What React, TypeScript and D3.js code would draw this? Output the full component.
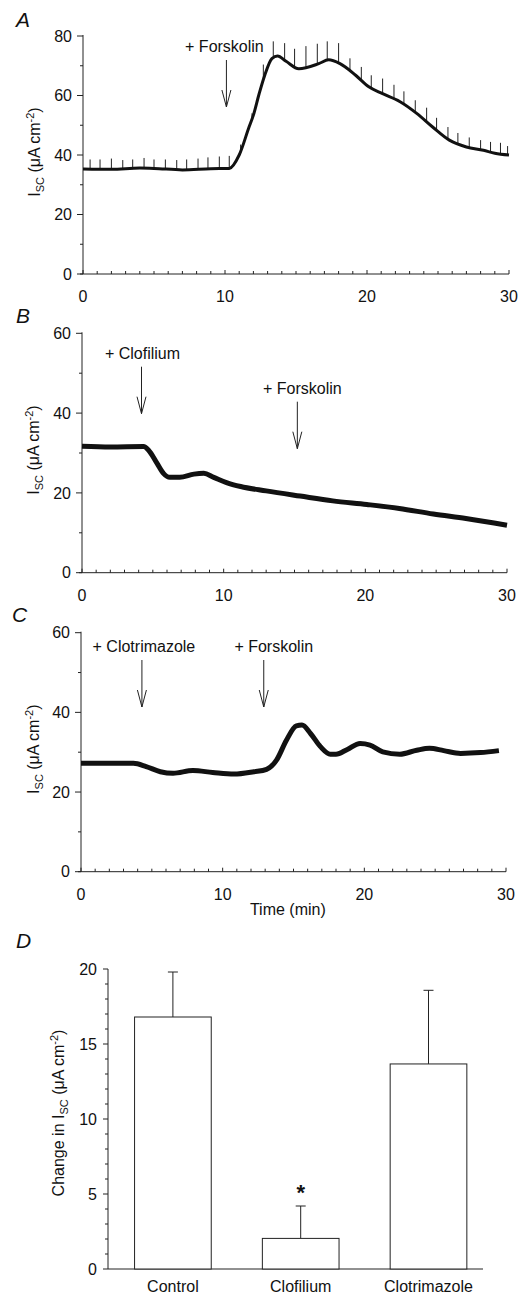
import React from "react";
import * as d3 from "d3";

// ---------- DATA ----------
// Panel A: mean trace (control)
const timeA = [0, 2, 4, 5, 7, 9, 10.3, 11, 11.7, 12.0, 12.4, 12.8, 13.3, 13.7, 14.3, 15.2, 16.6, 17.3, 18.1, 19.2, 20.1, 21.1, 22.3, 23.5, 24.6, 25.8, 27, 28.2, 29, 30];
const iscA = [35.3, 35.2, 35.6, 35.5, 35.0, 35.4, 35.5, 40, 49.5, 53.4, 60.5, 66.8, 72.4, 73.3, 71.5, 69, 70.7, 72, 70.7, 66.8, 63, 60.6, 58, 54, 49.5, 45, 42.7, 41.6, 40.6, 40];
// Panel A: SEM bar times and upper ends
const errTimeA = [0.5, 1.2, 2.0, 2.8, 3.5, 4.3, 5.0, 5.8, 6.6, 7.3, 8.1, 8.8, 9.6, 10.3, 11.1, 11.9, 12.7, 13.4, 14.2, 14.9, 15.7, 16.5, 17.2, 18.0, 18.8, 19.6, 20.3, 21.1, 21.9, 22.6, 23.4, 24.2, 24.9, 25.7, 26.4, 27.2, 28.0, 28.7, 29.4, 29.9];
const errTopA = [38.5, 38.5, 38.8, 38.3, 38.5, 39.0, 38.5, 38.5, 38.3, 38.5, 38.8, 39.2, 39.5, 39.7, 43.5, 54, 70.4, 78.2, 77.6, 75.7, 76.6, 77.4, 78.2, 77.6, 72.5, 69.6, 66.8, 65.7, 63.6, 61.4, 58.4, 55.9, 52.5, 49.4, 47.4, 45.9, 45.0, 44.4, 44.1, 43.0];

// Panel B: clofilium then forskolin
const timeB = [0, 2, 4.35, 4.7, 5.3, 5.75, 6.2, 6.9, 7.9, 8.6, 9.3, 10.2, 11.2, 13, 15.4, 17.7, 20.1, 22.4, 24.8, 27.1, 30];
const iscB = [31.7, 31.5, 31.6, 30.7, 27.4, 24.9, 23.9, 23.9, 24.7, 24.9, 23.9, 22.6, 21.6, 20.5, 19.2, 18, 17.1, 16.1, 14.7, 13.6, 11.9];

// Panel C: clotrimazole then forskolin
const timeC = [0, 3.7, 4.6, 5.6, 6.5, 7.9, 9.3, 10.8, 12.2, 13.1, 13.8, 14.5, 15.2, 15.6, 16.2, 16.9, 17.6, 18, 18.8, 19.7, 20.4, 21.3, 22.5, 23.7, 24.6, 25.6, 26.8, 28.2, 29.5];
const iscC = [27.2, 27.2, 26.4, 25.1, 24.7, 25.4, 24.9, 24.5, 25.1, 25.7, 28, 33, 36.6, 36.8, 34.7, 31.4, 29.5, 29.5, 30.7, 32.2, 31.8, 30.1, 29.5, 30.5, 31, 30.4, 29.7, 29.9, 30.4];

// Drug additions
const eventsA = [{ label: "+ Forskolin", t: 10.1 }];
const eventsB = [{ label: "+ Clofilium", t: 4.2 }, { label: "+ Forskolin", t: 15.2 }];
const eventsC = [{ label: "+ Clotrimazole", t: 4.3 }, { label: "+ Forskolin", t: 12.9 }];

// Panel D
const groups = ["Control", "Clofilium", "Clotrimazole"];
const changeMean = [16.8, 2.04, 13.67];
const changeSem = [3.0, 2.16, 4.91];
const significant = [false, true, false];

const xTicks = [0, 10, 20, 30];
const yTicksA = [0, 20, 40, 60, 80];
const yTicksBC = [0, 20, 40, 60];
const yTicksD = [0, 5, 10, 15, 20];

// ---------- LAYOUT ----------
const FONT = "'Liberation Sans', Arial, Helvetica, sans-serif";
const FS = 16;

function YLabel({ x, y, prefix }: { x: number; y: number; prefix?: string }) {
  return (
    <text transform={`translate(${x},${y}) rotate(-90)`} textAnchor="middle" fontSize={FS} fontFamily={FONT} fill="#111">
      {prefix ? <tspan>{prefix}</tspan> : null}
      <tspan>I</tspan>
      <tspan dy={4} fontSize={11}>SC</tspan>
      <tspan dy={-4}> (μA cm</tspan>
      <tspan dy={-6} fontSize={11}>-2</tspan>
      <tspan dy={6}>)</tspan>
    </text>
  );
}

type Ev = { label: string; t: number };

function TracePanel(props: {
  letter: string; letterY: number;
  x0: number; x1: number; yTop: number; yBot: number; yMax: number;
  yTicks: number[]; time: number[]; isc: number[]; lineW: number;
  events: Ev[]; arrowTop: number[]; textDx: number[];
  errTime?: number[]; errTop?: number[];
  labelY: number; xTitle?: boolean;
}) {
  const { x0, x1, yTop, yBot, yMax } = props;
  const x = d3.scaleLinear().domain([0, 30]).range([x0, x1]);
  const y = d3.scaleLinear().domain([0, yMax]).range([yBot, yTop]);
  const line = d3.line<number>().x((_, i) => x(props.time[i])).y((v) => y(v)).curve(d3.curveMonotoneX);
  const interp = d3.scaleLinear().domain(props.time).range(props.isc).clamp(true);
  const minorY = d3.range(0, yMax + 0.01, 10);
  const minorX = d3.range(0, 31, 1);
  const axisColor = "#222";
  return (
    <g>
      <text x={props.letter === "C" ? 12 : 16} y={props.letterY} fontSize={21} fontStyle="italic" fontFamily={FONT} fill="#111">{props.letter}</text>
      <line x1={x0} x2={x0} y1={yBot} y2={yTop - 1} stroke={axisColor} strokeWidth={1} />
      {minorY.map((v) => (
        <line key={"my" + v} x1={x0 - (v % 20 === 0 ? 6 : 3)} x2={x0} y1={y(v)} y2={y(v)} stroke={axisColor} strokeWidth={1} />
      ))}
      {props.yTicks.map((v) => (
        <text key={"ty" + v} x={x0 - 11} y={y(v)} dy="0.36em" textAnchor="end" fontSize={FS} fontFamily={FONT} fill="#111">{v}</text>
      ))}
      <line x1={x0 - 3} x2={x1} y1={yBot} y2={yBot} stroke={axisColor} strokeWidth={1} />
      {minorX.map((v) => (
        <line key={"mx" + v} x1={x(v)} x2={x(v)} y1={yBot} y2={yBot - (v % 10 === 0 ? 4 : 3)} stroke={axisColor} strokeWidth={1} />
      ))}
      {xTicks.map((v) => (
        <text key={"tx" + v} x={x(v)} y={yBot + 28} textAnchor="middle" fontSize={FS} fontFamily={FONT} fill="#111">{v}</text>
      ))}
      {props.xTitle ? (
        <text x={x(14.6)} y={yBot + 43} textAnchor="middle" fontSize={FS} fontFamily={FONT} fill="#111">Time (min)</text>
      ) : null}
      <YLabel x={props.labelY} y={(yTop + yBot) / 2 - 3} />
      {props.errTime && props.errTop
        ? props.errTime.map((t, i) => (
            <line key={"e" + i} x1={x(t)} x2={x(t)} y1={y(interp(t))} y2={y(props.errTop![i])} stroke="#222" strokeWidth={1} />
          ))
        : null}
      <path d={line(props.isc) || ""} fill="none" stroke="#111" strokeWidth={props.lineW} strokeLinejoin="round" />
      {props.events.map((ev, i) => {
        const ax = x(ev.t);
        const top = props.arrowTop[i];
        const tip = top + 47;
        return (
          <g key={"ev" + i}>
            <text x={ax + props.textDx[i]} y={top - 8} textAnchor="middle" fontSize={FS} fontFamily={FONT} fill="#111">{ev.label}</text>
            <line x1={ax} x2={ax} y1={top} y2={tip} stroke="#222" strokeWidth={1} />
            <path d={`M${ax - 4.5},${tip - 17} L${ax},${tip} L${ax + 4.5},${tip - 17}`} fill="none" stroke="#222" strokeWidth={1} />
          </g>
        );
      })}
    </g>
  );
}

function BarPanel() {
  const yBot = 1269, yTop = 969, xAxis0 = 108, xAxisEnd = 483;
  const y = d3.scaleLinear().domain([0, 20]).range([yBot, yTop]);
  const xb = d3.scaleBand<string>().domain(groups).range([109, 492.4]).paddingInner(0.4).paddingOuter(0.2);
  const minor = d3.range(0, 20.01, 1);
  return (
    <g>
      <text x={16} y={948} fontSize={21} fontStyle="italic" fontFamily={FONT} fill="#111">D</text>
      <line x1={xAxis0} x2={xAxis0} y1={yBot} y2={yTop} stroke="#222" strokeWidth={1} />
      {minor.map((v) => (
        <line key={"dm" + v} x1={xAxis0 - (v % 5 === 0 ? 5 : 3)} x2={xAxis0} y1={y(v)} y2={y(v)} stroke="#222" strokeWidth={1} />
      ))}
      {yTicksD.map((v) => (
        <text key={"dt" + v} x={xAxis0 - 11} y={y(v)} dy="0.36em" textAnchor="end" fontSize={FS} fontFamily={FONT} fill="#111">{v}</text>
      ))}
      <line x1={xAxis0} x2={xAxisEnd} y1={yBot} y2={yBot} stroke="#222" strokeWidth={1} />
      <YLabel x={64} y={1113} prefix="Change in " />
      {groups.map((g, i) => {
        const bx = xb(g)!;
        const cx = bx + xb.bandwidth() / 2;
        const top = y(changeMean[i]);
        const eTop = y(changeMean[i] + changeSem[i]);
        return (
          <g key={g}>
            <line x1={cx} x2={cx} y1={top} y2={eTop} stroke="#222" strokeWidth={1} />
            <line x1={cx - 5} x2={cx + 5} y1={eTop} y2={eTop} stroke="#222" strokeWidth={1} />
            <rect x={bx} y={top} width={xb.bandwidth()} height={yBot - top} fill="#fff" stroke="#222" strokeWidth={1} />
            <text x={cx} y={yBot + 23} textAnchor="middle" fontSize={FS} fontFamily={FONT} fill="#111">{g}</text>
            {significant[i] ? (
              <text x={cx} y={eTop - 6} textAnchor="middle" fontSize={22} fontWeight="bold" fontFamily={FONT} fill="#111">*</text>
            ) : null}
          </g>
        );
      })}
    </g>
  );
}

export default function App() {
  return (
    <svg width={528} height={1294} style={{ position: "absolute", left: 0, top: 0, background: "#fff" }}>
      <rect width={528} height={1294} fill="#fff" />
      <TracePanel letter="A" letterY={26.5} x0={83} x1={509} yTop={36} yBot={274} yMax={80}
        yTicks={yTicksA} time={timeA} isc={iscA} lineW={3}
        events={eventsA} arrowTop={[60]} textDx={[-2]}
        errTime={errTimeA} errTop={errTopA} labelY={40} />
      <TracePanel letter="B" letterY={323} x0={82} x1={507} yTop={333.3} yBot={572.7} yMax={60}
        yTicks={yTicksBC} time={timeB} isc={iscB} lineW={5}
        events={eventsB} arrowTop={[366.7, 401.7]} textDx={[1, 5]} labelY={39} />
      <TracePanel letter="C" letterY={622} x0={81} x1={506} yTop={632.7} yBot={871.7} yMax={60}
        yTicks={yTicksBC} time={timeC} isc={iscC} lineW={5}
        events={eventsC} arrowTop={[660, 660]} textDx={[2, 10]} labelY={39} xTitle />
      <BarPanel />
    </svg>
  );
}
